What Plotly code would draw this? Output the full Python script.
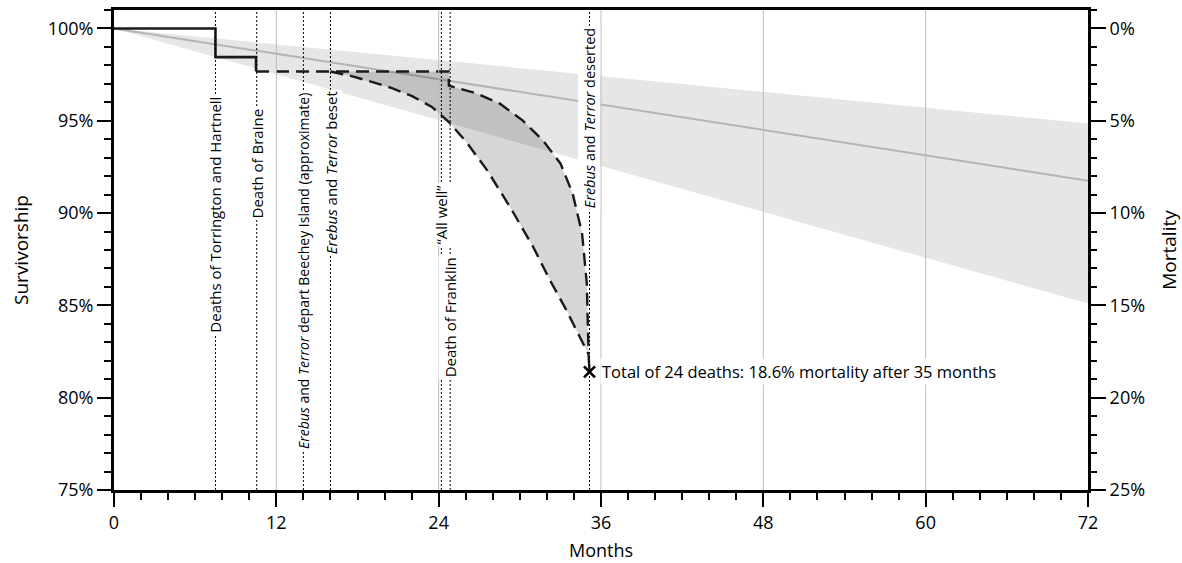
import plotly.graph_objects as go

# ---------------- data ----------------
# known survivorship (solid step), months / percent
step_months = [0, 7.5, 10.5]
step_surv = [100, 98.45, 97.67]

# upper bound path (dashed): continues from Braine's death, step at Franklin, then curve
upper_months = [10.5, 24.75, 24.75, 26.8, 28.5, 30.2, 31.7, 33.0, 33.9, 34.6, 34.95, 35.05, 35.08]
upper_surv = [97.67, 97.67, 96.90, 96.48, 95.94, 95.02, 93.94, 92.69, 91.07, 88.91, 86.20, 83.50, 82.35]

# lower bound curve (dashed), starting when the ships were beset
lower_months = [16.0, 17.5, 19.0, 20.5, 22.0, 23.5, 24.8, 26.1, 27.6, 29.3, 31.0, 32.2, 33.4, 34.3, 35.08]
lower_surv = [97.67, 97.43, 97.12, 96.78, 96.35, 95.75, 94.90, 93.80, 92.30, 90.30, 88.15, 86.40, 84.80, 83.50, 82.35]

# expected mortality band (linear), months / percent
band_months = [0, 72]
band_mid = [100, 91.75]
band_hi = [100, 94.85]
band_lo = [100, 85.10]

# final total
total_month = 35.15
total_surv = 81.4
total_text = "Total of 24 deaths: 18.6% mortality after 35 months"

# events
event_months = [7.5, 10.55, 14.0, 16.0, 24.2, 24.85, 35.15]
event_labels = [
    "Deaths of Torrington and Hartnell",
    "Death of Braine",
    "<i>Erebus</i> and <i>Terror</i> depart Beechey Island (approximate)",
    "<i>Erebus</i> and <i>Terror</i> beset",
    "\u201cAll well\u201d",
    "Death of Franklin",
    "<i>Erebus</i> and <i>Terror</i> deserted",
]

# axis ticks
x_ticks = [0, 12, 24, 36, 48, 60, 72]
surv_ticks = [75, 80, 85, 90, 95, 100]
surv_labels = ["75%", "80%", "85%", "90%", "95%", "100%"]
mort_ticks = [0, 5, 10, 15, 20, 25]
mort_labels = ["0%", "5%", "10%", "15%", "20%", "25%"]

# ---------------- layout helpers (positions / sizes only) ----------------
label_centres = [89.94, 92.67, 86.88, 92.18, 89.94, 84.36, 95.16]
label_sizes = [15, 15, 14, 15, 15, 15, 14.5]
FONT = "Open Sans"

fig = go.Figure()

# band
fig.add_trace(go.Scatter(
    x=band_months + band_months[::-1],
    y=band_hi + band_lo[::-1],
    fill="toself", fillcolor="#e6e6e6", line=dict(width=0),
    mode="lines", hoverinfo="skip", showlegend=False))

# centre line
fig.add_trace(go.Scatter(x=band_months, y=band_mid, mode="lines", hoverinfo="skip",
                         line=dict(color="#b4b4b4", width=2), showlegend=False))

# shaded area between bounds
poly_x = [lower_months[0]] + upper_months[1:] + lower_months[::-1]
poly_y = [lower_surv[0]] + upper_surv[1:] + lower_surv[::-1]
fig.add_trace(go.Scatter(x=poly_x, y=poly_y, fill="toself",
                         fillcolor="rgba(0,0,0,0.16)", line=dict(width=0),
                         mode="lines", hoverinfo="skip", showlegend=False))

dash = "13px,7px"
fig.add_trace(go.Scatter(x=upper_months, y=upper_surv, mode="lines", hoverinfo="skip",
                         line=dict(color="#1a1a1a", width=2.4, dash=dash),
                         showlegend=False))
fig.add_trace(go.Scatter(x=lower_months, y=lower_surv, mode="lines", hoverinfo="skip",
                         line=dict(color="#1a1a1a", width=2.4, dash=dash),
                         showlegend=False))
fig.add_trace(go.Scatter(x=[upper_months[-1], total_month], y=[upper_surv[-1], total_surv],
                         mode="lines", line=dict(color="#1a1a1a", width=2.4), hoverinfo="skip",
                         showlegend=False))

# known step
fig.add_trace(go.Scatter(x=step_months, y=step_surv, mode="lines", hoverinfo="skip",
                         line=dict(color="#1a1a1a", width=2.6, shape="hv"),
                         showlegend=False))

# total marker
fig.add_trace(go.Scatter(x=[total_month], y=[total_surv], mode="markers", hoverinfo="skip",
                         marker=dict(symbol="x-thin", size=11,
                                     line=dict(width=2.6, color="black")),
                         showlegend=False))

# mortality axis carrier
fig.add_trace(go.Scatter(x=[None], y=[None], yaxis="y2", showlegend=False, hoverinfo="skip"))

shapes = []
# vertical grid lines
for m in x_ticks[1:-1]:
    shapes.append(dict(type="line", xref="x", yref="paper", x0=m, x1=m, y0=0, y1=1,
                       line=dict(color="#bcbcbc", width=1), layer="above"))
# event lines
for m in event_months:
    shapes.append(dict(type="line", xref="x", yref="paper", x0=m, x1=m, y0=0, y1=1,
                       line=dict(color="black", width=1, dash="2px,2px"), layer="above"))

annotations = []
for m, lab, yc, fs in zip(event_months, event_labels, label_centres, label_sizes):
    annotations.append(dict(x=m, y=yc, xref="x", yref="y", text=lab, textangle=-90,
                            showarrow=False, xanchor="center", yanchor="middle",
                            bgcolor="white", borderpad=1,
                            font=dict(family=FONT, size=fs, color="black")))
annotations.append(dict(x=total_month, y=total_surv, xref="x", yref="y", text=total_text,
                        showarrow=False, xanchor="left", yanchor="middle", xshift=10,
                        bgcolor="white", borderpad=1,
                        font=dict(family=FONT, size=16.5, color="black")))

fig.update_layout(
    width=1182, height=563,
    margin=dict(l=114, r=94, t=10, b=73),
    paper_bgcolor="white", plot_bgcolor="white",
    font=dict(family=FONT, size=18, color="black"),
    showlegend=False, hovermode=False,
    shapes=shapes, annotations=annotations,
    xaxis=dict(range=[0, 72], tickvals=x_ticks, ticktext=[str(v) for v in x_ticks],
               showgrid=False, zeroline=False, automargin=False,
               showline=True, linecolor="black", linewidth=3, mirror=True,
               ticks="outside", ticklen=14, tickwidth=2, tickcolor="black",
               minor=dict(dtick=2, ticks="outside", ticklen=7, tickwidth=2, tickcolor="black"),
               tickfont=dict(size=18),
               title=dict(text="Months", font=dict(size=18), standoff=12)),
    yaxis=dict(range=[75, 101], tickvals=surv_ticks, ticktext=surv_labels,
               showgrid=False, zeroline=False, automargin=False,
               showline=True, linecolor="black", linewidth=3, mirror=True,
               ticks="outside", ticklen=14, tickwidth=2, tickcolor="black",
               minor=dict(dtick=1, ticks="outside", ticklen=7, tickwidth=2, tickcolor="black"),
               tickfont=dict(size=18),
               title=dict(text="Survivorship", font=dict(size=19), standoff=14)),
    yaxis2=dict(range=[25, -1], overlaying="y", side="right",
                tickvals=mort_ticks, ticktext=mort_labels,
                showgrid=False, zeroline=False, automargin=False,
                showline=True, linecolor="black", linewidth=2,
                ticks="outside", ticklen=16, tickwidth=2, tickcolor="black",
                minor=dict(dtick=1, ticks="outside", ticklen=7, tickwidth=2, tickcolor="black"),
                tickfont=dict(size=18),
                title=dict(text="Mortality", font=dict(size=19), standoff=20)),
)

fig.write_html("out.html", config={"displayModeBar": False},
               post_script="document.body.style.margin='0';")
